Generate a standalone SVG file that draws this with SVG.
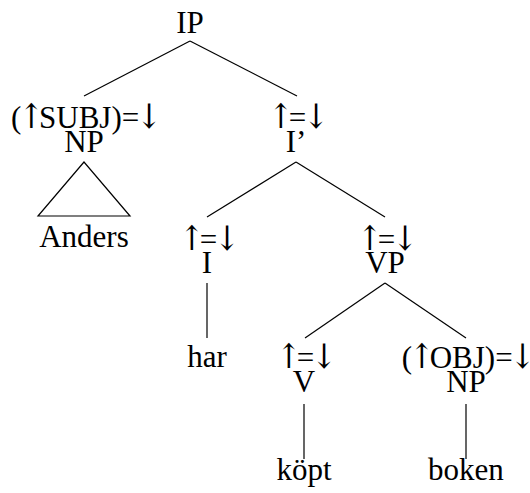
<svg xmlns="http://www.w3.org/2000/svg" width="530" height="493" viewBox="0 0 530 493">
  <style>
    text { font-family: "Liberation Serif", "Times New Roman", serif; font-size: 31px; fill: #000; text-anchor: middle; }
    .ar { font-family: "DejaVu Serif Condensed", "DejaVu Serif", serif; font-size: 34px; letter-spacing: -5px; }
    .edge { stroke: #000; stroke-width: 1.2; fill: none; }
  </style>
  <rect width="530" height="493" fill="#fff"/>

  <g id="connectors">
    <line class="edge" x1="190" y1="41" x2="84" y2="96"/>
    <line class="edge" x1="190" y1="41" x2="297" y2="96"/>
    <polygon class="edge" points="84,162 38,216 130,216"/>
    <line class="edge" x1="296" y1="162" x2="207" y2="217"/>
    <line class="edge" x1="296" y1="162" x2="385" y2="217"/>
    <line class="edge" x1="207" y1="283" x2="207" y2="338"/>
    <line class="edge" x1="385" y1="283" x2="305" y2="338"/>
    <line class="edge" x1="385" y1="283" x2="466" y2="338"/>
    <line class="edge" x1="304" y1="404" x2="304" y2="459"/>
    <line class="edge" x1="466" y1="404" x2="466" y2="459"/>
  </g>

  <g id="node-ip"><text x="190" y="33">IP</text></g>
  <g id="node-np-subj">
    <text x="84" y="128">(<tspan class="ar" dx="-3">↑</tspan>SUBJ)=<tspan class="ar" dx="-3">↓</tspan></text>
    <text x="84" y="152">NP</text>
  </g>
  <g id="node-anders"><text x="84" y="247">Anders</text></g>
  <g id="node-ibar">
    <text x="296" y="128"><tspan class="ar">↑</tspan>=<tspan class="ar" dx="-3">↓</tspan></text>
    <text x="296" y="152">I’</text>
  </g>
  <g id="node-i">
    <text x="207" y="250"><tspan class="ar">↑</tspan>=<tspan class="ar" dx="-3">↓</tspan></text>
    <text x="207" y="273">I</text>
  </g>
  <g id="node-vp">
    <text x="385" y="250"><tspan class="ar">↑</tspan>=<tspan class="ar" dx="-3">↓</tspan></text>
    <text x="385" y="273">VP</text>
  </g>
  <g id="node-har"><text x="207" y="367">har</text></g>
  <g id="node-v">
    <text x="304" y="368"><tspan class="ar">↑</tspan>=<tspan class="ar" dx="-3">↓</tspan></text>
    <text x="304" y="392">V</text>
  </g>
  <g id="node-np-obj">
    <text x="466" y="368">(<tspan class="ar" dx="-3">↑</tspan>OBJ)=<tspan class="ar" dx="-3">↓</tspan></text>
    <text x="466" y="392">NP</text>
  </g>
  <g id="node-kopt"><text x="304" y="480">köpt</text></g>
  <g id="node-boken"><text x="466" y="480">boken</text></g>
</svg>
